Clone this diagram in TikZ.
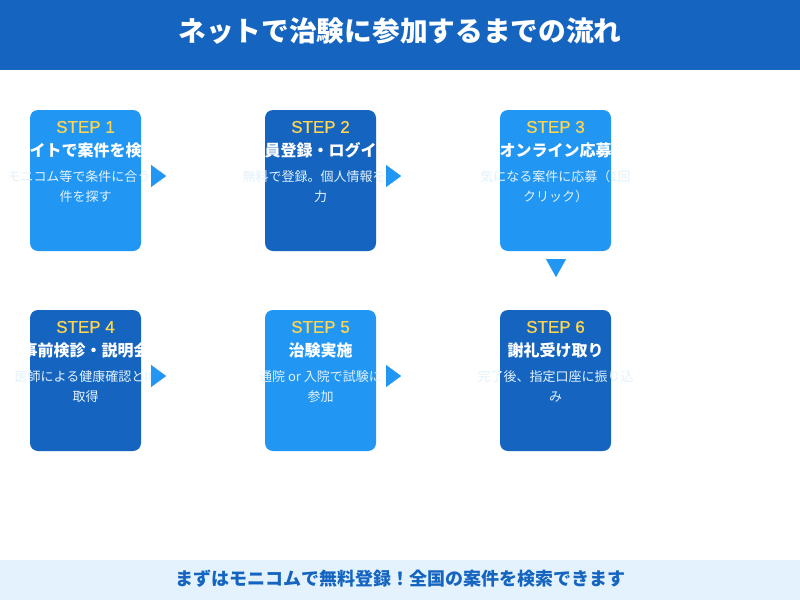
\documentclass[tikz,border=0pt]{standalone}
\usepackage{fontspec}
\setmainfont{Noto Sans CJK JP}
\newfontfamily\latinf[FakeBold=0.8]{Liberation Sans}
\usetikzlibrary{calc}
\definecolor{dblue}{HTML}{1565C0}
\definecolor{lblue}{HTML}{2196F3}
\definecolor{pale}{HTML}{E3F2FD}
\definecolor{gold}{HTML}{FFD54F}
\newcommand\stepcard[8]{%
  \node[stepbox, fill=#4] (#1) at (#2,#3) {};
  \node[lab] (#1l) at ($(#1.north)+(0,23)$) {STEP #5};
  \node[ttl] (#1t) at ($(#1.north)+(0,47)$) {#6};
  \node[dsc] (#1a) at ($(#1.north)+(0,72)$) {#7};
  \node[dsc] (#1b) at ($(#1.north)+(0,92)$) {#8};
}
\begin{document}
\begin{tikzpicture}[x=1pt,y=-1pt,
  stepbox/.style={rounded corners=8pt, minimum width=111pt, minimum height=141pt, inner sep=0pt, draw=none},
  lab/.style={anchor=base, text=gold, font=\latinf\fontsize{17}{20}\selectfont, inner sep=0pt},
  ttl/.style={anchor=base, text=white, font=\bfseries\fontsize{16}{18}\selectfont, inner sep=0pt},
  dsc/.style={anchor=base, text=pale, font=\fontsize{13}{15}\selectfont, inner sep=0pt},
  tri/.style={fill=lblue}]
\useasboundingbox (0,0) rectangle (800,600);
\fill[white] (0,0) rectangle (800,600);
\node[fill=dblue, minimum width=800pt, minimum height=70pt, inner sep=0pt, anchor=north west] (header) at (0,0) {};
\node[anchor=base, text=white, inner sep=0pt, font=\bfseries\fontsize{27.7}{30}\selectfont] (htitle) at (400,41) {ネットで治験に参加するまでの流れ};
\node[fill=pale, minimum width=800pt, minimum height=40pt, inner sep=0pt, anchor=north west] (footer) at (0,560) {};
\node[anchor=base, text=dblue, inner sep=0pt, font=\bfseries\fontsize{18}{20}\selectfont] (ftext) at (400,585) {まずはモニコムで無料登録！全国の案件を検索できます};

\stepcard{s1}{85.5}{180.5}{lblue}{1}{サイトで案件を検索}{モニコム等で条件に合う案}{件を探す}
\stepcard{s2}{320.5}{180.5}{dblue}{2}{会員登録・ログイン}{無料で登録。個人情報を入}{力}
\stepcard{s3}{555.5}{180.5}{lblue}{3}{オンライン応募}{気になる案件に応募（1回}{クリック）}
\stepcard{s4}{85.5}{380.5}{dblue}{4}{事前検診・説明会}{医師による健康確認とIC}{取得}
\stepcard{s5}{320.5}{380.5}{lblue}{5}{治験実施}{通院 or 入院で試験に}{参加}
\stepcard{s6}{555.5}{380.5}{dblue}{6}{謝礼受け取り}{完了後、指定口座に振り込}{み}

\fill[tri] ($(s1.east)+(10,-15.5)$) -- ++(0,22) -- ++(15,-11) -- cycle;
\fill[tri] ($(s2.east)+(10,-15.5)$) -- ++(0,22) -- ++(15,-11) -- cycle;
\fill[tri] ($(s4.east)+(10,-15.5)$) -- ++(0,22) -- ++(15,-11) -- cycle;
\fill[tri] ($(s5.east)+(10,-15.5)$) -- ++(0,22) -- ++(15,-11) -- cycle;
\fill[tri] ($(s3.south)+(-9.5,8)$) -- ++(20,0) -- ++(-10,18) -- cycle;
\end{tikzpicture}
\end{document}
